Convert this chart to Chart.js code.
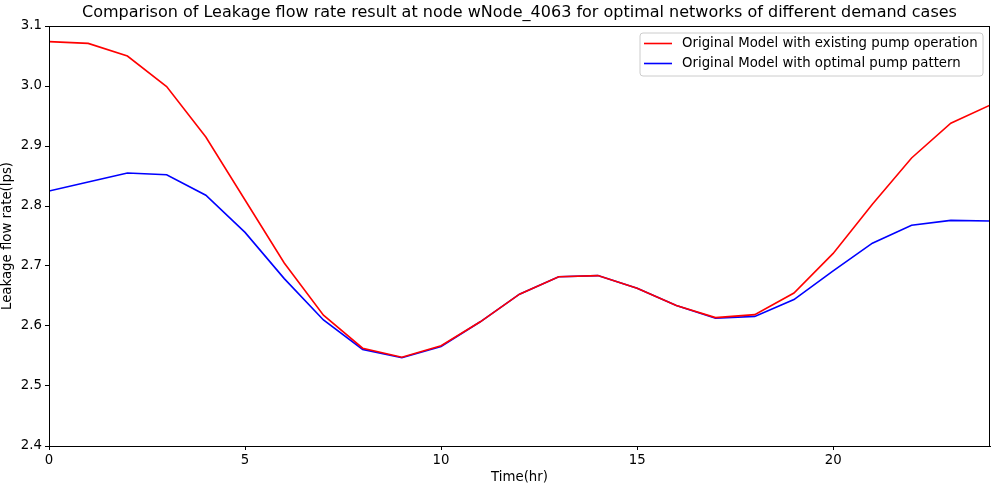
<!DOCTYPE html>
<html>
<head>
<meta charset="utf-8">
<script src="https://cdn.jsdelivr.net/npm/chart.js@4.4.1/dist/chart.umd.min.js"></script>
<style>
  html, body { margin: 0; padding: 0; background: #fff; }
  #wrap { width: 991px; height: 486px; }
</style>
</head>
<body>
<div id="wrap"><canvas id="c" width="991" height="486"></canvas></div>
<script>
const chartTitle = "Comparison of Leakage flow rate result at node wNode_4063 for optimal networks of different demand cases";
const xLabel = "Time(hr)";
const yLabel = "Leakage flow rate(lps)";
const hours = [0,1,2,3,4,5,6,7,8,9,10,11,12,13,14,15,16,17,18,19,20,21,22,23,24];
const existingPump = [3.074,3.071,3.050,2.999,2.915,2.810,2.705,2.618,2.563,2.548,2.567,2.607,2.653,2.682,2.684,2.663,2.634,2.614,2.619,2.655,2.721,2.803,2.880,2.938,2.968];
const optimalPump  = [2.825,2.840,2.855,2.852,2.818,2.756,2.679,2.610,2.561,2.547,2.566,2.607,2.653,2.682,2.684,2.663,2.634,2.613,2.616,2.644,2.692,2.738,2.768,2.776,2.775];
const seriesNames = ["Original Model with existing pump operation", "Original Model with optimal pump pattern"];
const seriesColors = ["#ff0000", "#0000ff"];
const xTicks = [0,5,10,15,20];

const FONT = "'DejaVu Sans', sans-serif";
const FS = 13.3;

const boxPlugin = {
  id: 'box',
  afterDraw(chart) {
    const ctx = chart.ctx, a = chart.chartArea;
    ctx.save();
    ctx.strokeStyle = '#000';
    ctx.lineWidth = 1;
    ctx.strokeRect(Math.round(a.left) + 0.5, Math.round(a.top) + 0.5, Math.round(a.right - a.left) - 1, Math.round(a.bottom - a.top));
    // title
    ctx.fillStyle = '#000';
    ctx.font = "16px " + FONT;
    ctx.textAlign = 'center';
    ctx.textBaseline = 'middle';
    ctx.fillText(chartTitle, (a.left + a.right) / 2, 13);
    // legend
    const lx = 640, ly = 33, lw = 343, lh = 43, r = 3;
    ctx.beginPath();
    ctx.moveTo(lx + r, ly);
    ctx.lineTo(lx + lw - r, ly);
    ctx.quadraticCurveTo(lx + lw, ly, lx + lw, ly + r);
    ctx.lineTo(lx + lw, ly + lh - r);
    ctx.quadraticCurveTo(lx + lw, ly + lh, lx + lw - r, ly + lh);
    ctx.lineTo(lx + r, ly + lh);
    ctx.quadraticCurveTo(lx, ly + lh, lx, ly + lh - r);
    ctx.lineTo(lx, ly + r);
    ctx.quadraticCurveTo(lx, ly, lx + r, ly);
    ctx.closePath();
    ctx.fillStyle = 'rgba(255,255,255,0.8)';
    ctx.fill();
    ctx.strokeStyle = '#cccccc';
    ctx.lineWidth = 1;
    ctx.stroke();
    chart.data.datasets.forEach((ds, i) => {
      const y = 43.5 + i * 20;
      ctx.beginPath();
      ctx.strokeStyle = ds.borderColor;
      ctx.lineWidth = 1.6;
      ctx.moveTo(644, y);
      ctx.lineTo(672, y);
      ctx.stroke();
      ctx.fillStyle = '#000';
      ctx.font = FS + "px " + FONT;
      ctx.textAlign = 'left';
      ctx.textBaseline = 'middle';
      ctx.fillText(ds.label, 682, y);
    });
    ctx.restore();
  }
};

new Chart(document.getElementById('c'), {
  type: 'line',
  data: {
    datasets: [
      { label: seriesNames[0], data: hours.map((h, i) => ({x: h, y: existingPump[i]})), borderColor: seriesColors[0], backgroundColor: seriesColors[0], borderWidth: 1.6, pointRadius: 0, tension: 0, fill: false },
      { label: seriesNames[1], data: hours.map((h, i) => ({x: h, y: optimalPump[i]})), borderColor: seriesColors[1], backgroundColor: seriesColors[1], borderWidth: 1.6, pointRadius: 0, tension: 0, fill: false }
    ]
  },
  options: {
    responsive: false,
    animation: false,
    devicePixelRatio: 1,
    layout: { padding: { top: 26, right: 1, left: 0, bottom: 0 } },
    plugins: { legend: { display: false }, title: { display: false }, tooltip: { enabled: false } },
    scales: {
      x: {
        type: 'linear', min: 0, max: 24,
        afterBuildTicks(scale) { scale.ticks = xTicks.map(v => ({ value: v })); },
        afterFit(scale) { scale.height = 40; },
        ticks: { color: '#000', font: { family: FONT, size: FS }, padding: 3, maxRotation: 0, autoSkip: false },
        grid: { display: true, drawOnChartArea: false, tickLength: 4, color: '#000', tickColor: '#000' },
        border: { display: true, color: '#000', width: 1 },
        title: { display: true, text: xLabel, color: '#000', font: { family: FONT, size: FS }, padding: { top: 0, bottom: 0 } }
      },
      y: {
        type: 'linear', min: 2.4, max: 3.1,
        afterBuildTicks(scale) { const t = []; for (let k = 24; k <= 31; k++) t.push({ value: k / 10 }); scale.ticks = t; },
        afterFit(scale) { scale.width = 49; },
        ticks: { color: '#000', font: { family: FONT, size: FS }, padding: 3, callback: v => Number(v).toFixed(1) },
        grid: { display: true, drawOnChartArea: false, tickLength: 4, color: '#000', tickColor: '#000' },
        border: { display: true, color: '#000', width: 1 },
        title: { display: true, text: yLabel, color: '#000', font: { family: FONT, size: FS }, padding: { top: 0, bottom: 0 } }
      }
    }
  },
  plugins: [boxPlugin]
});
</script>
</body>
</html>
